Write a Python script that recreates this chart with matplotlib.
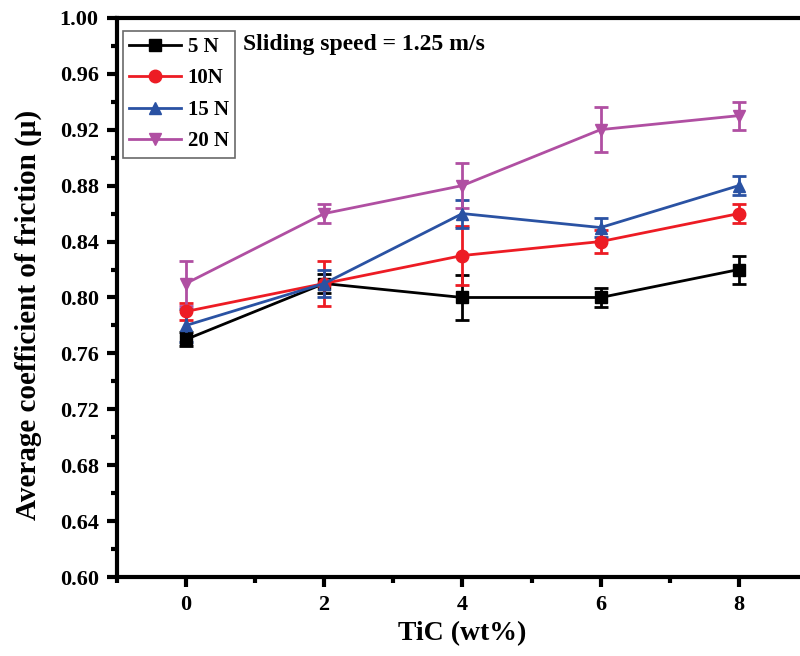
import matplotlib.pyplot as plt
import numpy as np
from matplotlib.ticker import MultipleLocator

plt.rcParams['font.family'] = ['Liberation Serif', 'DejaVu Serif']
plt.rcParams['font.weight'] = 'bold'

tic = [0, 2, 4, 6, 8]
labels = ['5 N', '10N', '15 N', '20 N']
mu_5 = [0.77, 0.81, 0.80, 0.80, 0.82]
err_5 = [0.005, 0.007, 0.016, 0.007, 0.010]
mu_10 = [0.79, 0.81, 0.83, 0.84, 0.86]
err_10 = [0.006, 0.016, 0.021, 0.008, 0.007]
mu_15 = [0.78, 0.81, 0.86, 0.85, 0.88]
err_15 = [0.012, 0.010, 0.010, 0.007, 0.007]
mu_20 = [0.81, 0.86, 0.88, 0.92, 0.93]
err_20 = [0.016, 0.007, 0.016, 0.016, 0.010]

series = [(mu_5, err_5, 'black', 's'),
          (mu_10, err_10, '#ed1c24', 'o'),
          (mu_15, err_15, '#2a52a3', '^'),
          (mu_20, err_20, '#b04fa2', 'v')]

fig = plt.figure(figsize=(8, 6.56), dpi=100)
ax = fig.add_axes([0.146, 0.120, 0.864, 0.853])

handles = []
for (y, e, c, m), lab in zip(series, labels):
    cont = ax.errorbar(tic, y, yerr=e, color=c, marker=m, markersize=9, lw=2,
                       capsize=5, capthick=2, elinewidth=2, label=lab)
    handles.append(cont[0])

ax.set_xlim(-1, 9)
ax.set_ylim(0.60, 1.00)
ax.xaxis.set_major_locator(MultipleLocator(2))
ax.xaxis.set_minor_locator(MultipleLocator(1))
ax.yaxis.set_major_locator(MultipleLocator(0.04))
ax.yaxis.set_minor_locator(MultipleLocator(0.02))
ax.yaxis.set_major_formatter(plt.FormatStrFormatter('%.2f'))
ax.tick_params(which='major', direction='out', length=7, width=3, labelsize=16, pad=6)
ax.tick_params(which='minor', direction='out', length=4, width=3)
for s in ax.spines.values():
    s.set_linewidth(3)

ax.set_xlabel('TiC (wt%)', fontsize=20, fontweight='bold', labelpad=4)
ax.set_ylabel('Average coefficient of friction (\u03bc)', fontsize=21, fontweight='bold')
ax.yaxis.set_label_coords(-0.108, 0.469)

leg = ax.legend(handles=handles, labels=labels, loc='upper left', bbox_to_anchor=(0.0, 0.988),
                fontsize=15, frameon=True, fancybox=False, edgecolor='#444444',
                handlelength=2.5, borderaxespad=0.3, labelspacing=0.55,
                handletextpad=0.3, borderpad=0.3)
leg.get_frame().set_linewidth(1.2)

ax.text(0.182, 0.952, 'Sliding speed = 1.25 m/s', transform=ax.transAxes,
        fontsize=17, fontweight='bold', va='center')

fig.savefig('out.png', dpi=100)
